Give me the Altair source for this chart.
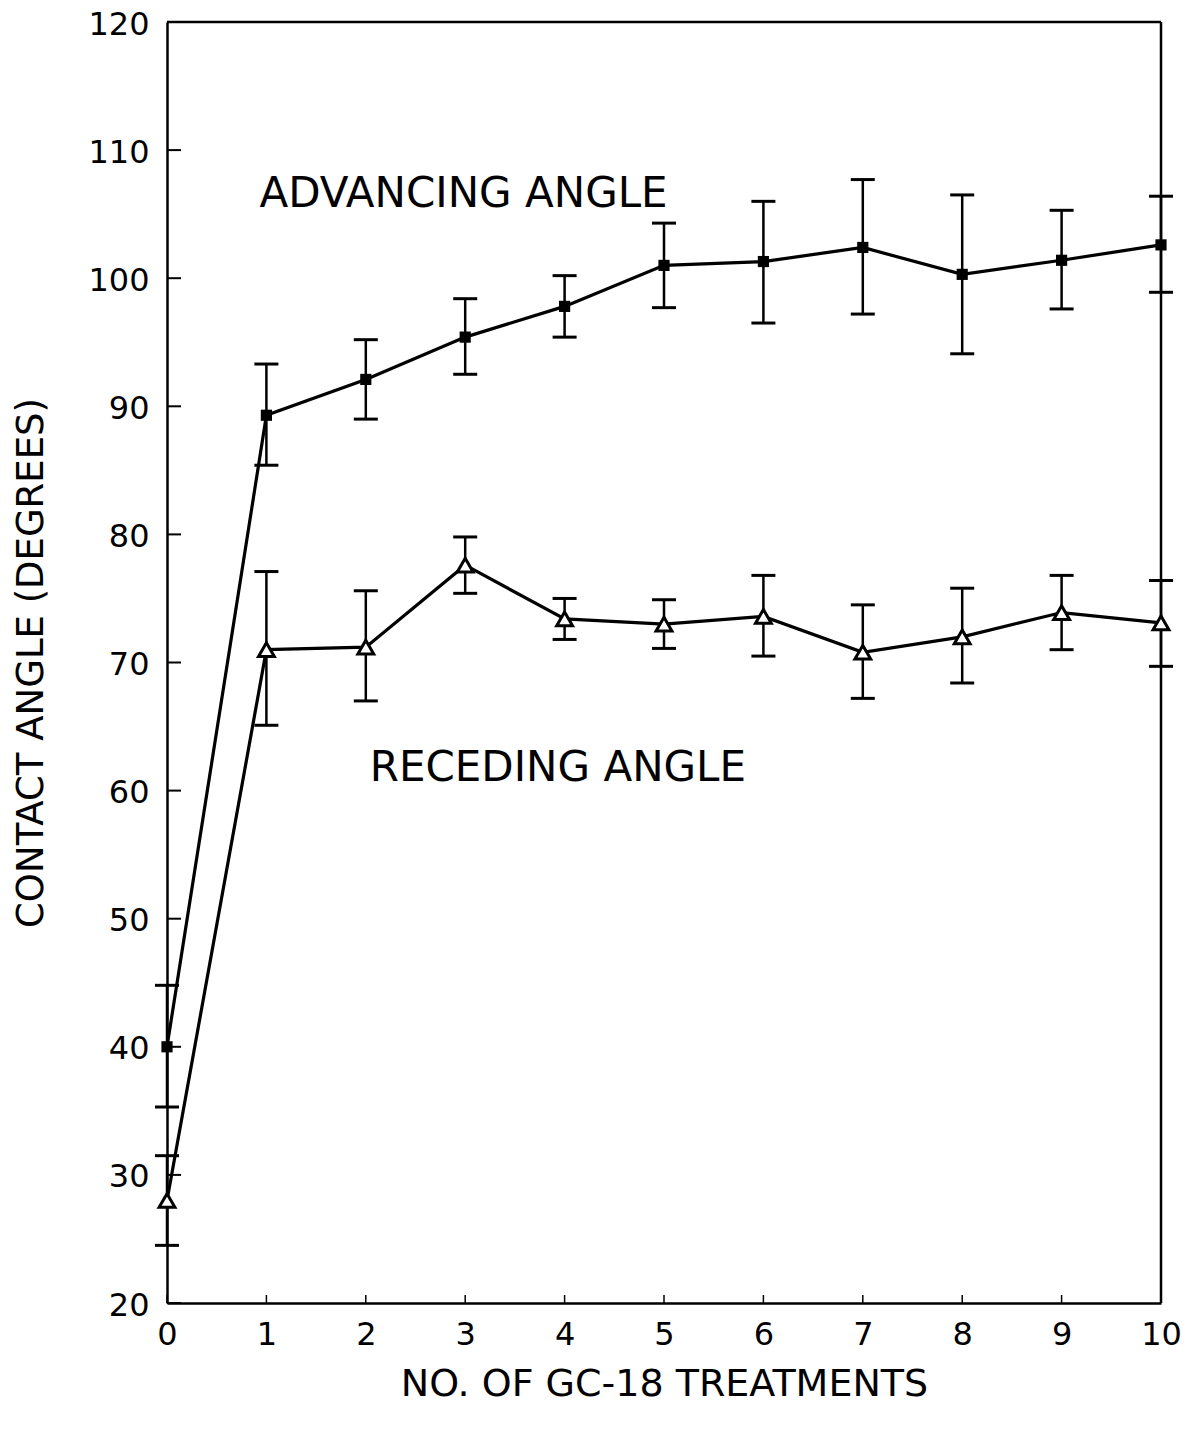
import altair as alt
import pandas as pd

# ---- data ----
treatments = [0, 1, 2, 3, 4, 5, 6, 7, 8, 9, 10]

adv_mean = [40.0, 89.3, 92.1, 95.4, 97.8, 101.0, 101.3, 102.4, 100.3, 101.4, 102.6]
adv_low = [35.3, 85.4, 89.0, 92.5, 95.4, 97.7, 96.5, 97.2, 94.1, 97.6, 98.9]
adv_high = [44.8, 93.3, 95.2, 98.4, 100.2, 104.3, 106.0, 107.7, 106.5, 105.3, 106.4]

rec_mean = [28.0, 71.0, 71.2, 77.6, 73.4, 73.0, 73.6, 70.8, 72.0, 73.9, 73.1]
rec_low = [24.5, 65.1, 67.0, 75.4, 71.8, 71.1, 70.5, 67.2, 68.4, 71.0, 69.7]
rec_high = [31.5, 77.1, 75.6, 79.8, 75.0, 74.9, 76.8, 74.5, 75.8, 76.8, 76.4]

x_ticks = [0, 1, 2, 3, 4, 5, 6, 7, 8, 9, 10]
y_ticks = [20, 30, 40, 50, 60, 70, 80, 90, 100, 110, 120]

label_text = ["ADVANCING ANGLE", "RECEDING ANGLE"]
label_x = [0.93, 2.04]
label_y = [106.6, 61.8]

x_domain = [0, 10]
y_domain = [20, 120]

FONT = "DejaVu Sans"

rows = []
for i, t in enumerate(treatments):
    rows.append({"n": t, "series": "Advancing", "mean": adv_mean[i], "low": adv_low[i], "high": adv_high[i]})
    rows.append({"n": t, "series": "Receding", "mean": rec_mean[i], "low": rec_low[i], "high": rec_high[i]})
df = pd.DataFrame(rows)

xscale = alt.Scale(domain=x_domain, nice=False, zero=False)
yscale = alt.Scale(domain=y_domain, nice=False, zero=False)

xaxis = alt.Axis(values=x_ticks, title="NO. OF GC-18 TREATMENTS", grid=False, ticks=False,
                 labelFontSize=32, labelPadding=16, titleFontSize=38, titlePadding=15,
                 titleFontWeight="normal", domainColor="black", domainWidth=2.5,
                 labelColor="black", titleColor="black", labelFont=FONT, titleFont=FONT,
                 labelFlush=False, format="d")
yaxis = alt.Axis(values=y_ticks, title="CONTACT ANGLE (DEGREES)", grid=False, ticks=False,
                 labelFontSize=32, labelPadding=18, labelOffset=2, titleFontSize=37,
                 titlePadding=37, titleFontWeight="normal", domainColor="black",
                 domainWidth=2.5, labelColor="black", titleColor="black", labelFont=FONT,
                 titleFont=FONT, labelFlush=False, format="d")

base = alt.Chart(df)

bars = base.mark_rule(color="black", strokeWidth=2.5).encode(
    x=alt.X("n:Q", scale=xscale, axis=xaxis),
    y=alt.Y("low:Q", scale=yscale, axis=yaxis),
    y2="high:Q",
)
cap_low = base.mark_tick(color="black", orient="horizontal", size=24, thickness=3, opacity=1).encode(
    x=alt.X("n:Q", scale=xscale), y=alt.Y("low:Q", scale=yscale))
cap_high = base.mark_tick(color="black", orient="horizontal", size=24, thickness=3, opacity=1).encode(
    x=alt.X("n:Q", scale=xscale), y=alt.Y("high:Q", scale=yscale))

lines = base.mark_line(color="black", strokeWidth=3.2).encode(
    x=alt.X("n:Q", scale=xscale), y=alt.Y("mean:Q", scale=yscale), detail="series:N")

squares = base.transform_filter(alt.datum.series == "Advancing").mark_point(
    shape="square", filled=True, color="black", size=125, opacity=1).encode(
    x=alt.X("n:Q", scale=xscale), y=alt.Y("mean:Q", scale=yscale))

triangles = base.transform_filter(alt.datum.series == "Receding").mark_point(
    shape="triangle-up", filled=True, fill="white", stroke="black", strokeWidth=3,
    size=250, opacity=1).encode(
    x=alt.X("n:Q", scale=xscale), y=alt.Y("mean:Q", scale=yscale))

yt = pd.DataFrame({"v": y_ticks, "x0": [x_domain[0]] * len(y_ticks)})
ytick_marks = alt.Chart(yt).mark_tick(color="black", orient="horizontal", size=14,
                                      thickness=2, xOffset=7, opacity=1).encode(
    x=alt.X("x0:Q", scale=xscale), y=alt.Y("v:Q", scale=yscale))

xt = pd.DataFrame({"v": x_ticks, "y0": [y_domain[0]] * len(x_ticks)})
xtick_marks = alt.Chart(xt).mark_tick(color="black", orient="vertical", size=8,
                                      thickness=1.5, yOffset=-4, opacity=1).encode(
    x=alt.X("v:Q", scale=xscale), y=alt.Y("y0:Q", scale=yscale))

# frame: top and right border of the plot box
top_df = pd.DataFrame({"a": [x_domain[0]], "b": [x_domain[1]], "y": [y_domain[1]]})
top_border = alt.Chart(top_df).mark_rule(color="black", strokeWidth=2.5).encode(
    x=alt.X("a:Q", scale=xscale), x2="b:Q", y=alt.Y("y:Q", scale=yscale))
right_df = pd.DataFrame({"x": [x_domain[1]], "a": [y_domain[0]], "b": [y_domain[1]]})
right_border = alt.Chart(right_df).mark_rule(color="black", strokeWidth=2.5).encode(
    x=alt.X("x:Q", scale=xscale), y=alt.Y("a:Q", scale=yscale), y2="b:Q")

lab = pd.DataFrame({"t": label_text, "x": label_x, "y": label_y})
labels = alt.Chart(lab).mark_text(align="left", baseline="middle", fontSize=42,
                                  font=FONT, color="black").encode(
    x=alt.X("x:Q", scale=xscale), y=alt.Y("y:Q", scale=yscale), text="t:N")

chart = alt.layer(top_border, right_border, bars, cap_low, cap_high, lines, squares, triangles,
                  ytick_marks, xtick_marks, labels).properties(
    width=994, height=1281,
    autosize=alt.AutoSizeParams(type="none"),
    padding={"left": 159, "top": 14, "right": 29, "bottom": 122},
).configure_view(stroke="black", strokeWidth=2.5).configure(background="white")

chart.save("out.html", embed_options={"renderer": "svg", "actions": False})
